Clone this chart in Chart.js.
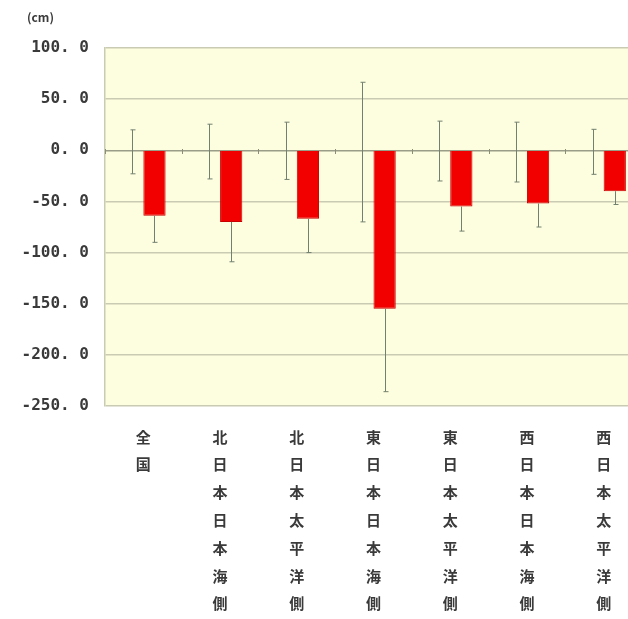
<!DOCTYPE html>
<html>
<head>
<meta charset="utf-8">
<script src="https://cdn.jsdelivr.net/npm/chart.js@4/dist/chart.umd.min.js"></script>
<style>
html,body{margin:0;padding:0;background:#fff;overflow:hidden;}
#wrap{position:relative;width:660px;height:619px;}
</style>
</head>
<body>
<div id="wrap"><canvas id="c"></canvas></div>
<script>
// ---- data ----
const categories = ['全国','北日本日本海側','北日本太平洋側','東日本日本海側','東日本太平洋側','西日本日本海側','西日本太平洋側'];
const normalBase = [0,0,0,0,0,0,0];
const normalHigh = [20,25.5,27.5,66.5,28.5,27.5,20.5];
const normalLow = [-23,-28,-28.5,-70,-30,-31,-23.5];
const anomaly = [-64,-70,-67,-155,-55,-52,-40];
const anomalyLow = [-90,-109,-100,-236,-79,-75,-53];
const yTicks = [100,50,0,-50,-100,-150,-200,-250];
const unitLabel = '(cm)';

const FONT = '"Noto Sans CJK JP","Noto Sans",sans-serif';
const MONO = '"DejaVu Sans Mono","Liberation Mono",monospace';
const TEXT = '#3a3a3a';

const errorBars = {
  id:'errorBars',
  afterDatasetsDraw(chart){
    const ctx = chart.ctx, ys = chart.scales.y;
    const sets = [[0, normalHigh, normalLow],[1, null, anomalyLow]];
    ctx.save();
    ctx.strokeStyle = '#72806f';
    ctx.lineWidth = 1;
    sets.forEach(([di, hi, lo])=>{
      const meta = chart.getDatasetMeta(di);
      meta.data.forEach((el,i)=>{
        const x = Math.round(el.x)+0.5;
        const top = hi ? ys.getPixelForValue(hi[i]) : ys.getPixelForValue(chart.data.datasets[di].data[i]);
        const bot = ys.getPixelForValue(lo[i]);
        ctx.beginPath();
        ctx.moveTo(x, top); ctx.lineTo(x, bot);
        if (hi){ ctx.moveTo(x-2, top); ctx.lineTo(x+3, top); }
        ctx.moveTo(x-2, bot); ctx.lineTo(x+3, bot);
        ctx.stroke();
      });
    });
    // category axis tick marks on the zero line
    const xs = chart.scales.x;
    const y0 = Math.round(ys.getPixelForValue(0));
    ctx.strokeStyle = '#8a8f7a';
    for (let i=0;i<=categories.length;i++){
      const x = Math.round(xs.getPixelForValue(i-0.5))+0.5;
      ctx.beginPath(); ctx.moveTo(x, y0-1); ctx.lineTo(x, y0+4); ctx.stroke();
    }
    ctx.restore();
  },
  afterDraw(chart){
    const ctx = chart.ctx;
    ctx.save();
    ctx.fillStyle = TEXT;
    ctx.font = 'bold 12px ' + FONT;
    ctx.textBaseline = 'middle';
    ctx.fillText(unitLabel, 27, 17);
    ctx.restore();
  }
};

const bgPlugin = {
  id:'bg',
  beforeDraw(chart){
    const {ctx, chartArea:a} = chart;
    ctx.save();
    ctx.fillStyle = '#fdfddf';
    ctx.fillRect(a.left, a.top, a.right-a.left, a.bottom-a.top);
    ctx.restore();
  }
};

new Chart(document.getElementById('c'), {
  type:'bar',
  data:{
    labels: categories.map(s=>Array.from(s)),
    datasets:[
      {label:'平年', data: normalBase, backgroundColor:'rgba(0,0,0,0)', borderWidth:0},
      {label:'偏差', data: anomaly, backgroundColor:'#f20000', borderColor:'#c80000', borderWidth:1}
    ]
  },
  options:{
    responsive:true, maintainAspectRatio:false, animation:false,
    layout:{padding:{left:0,right:18,top:48,bottom:0}},
    plugins:{legend:{display:false}, tooltip:{enabled:false}},
    datasets:{bar:{categoryPercentage:0.58, barPercentage:1.0}},
    scales:{
      x:{
        grid:{display:false, drawTicks:false},
        border:{display:false},
        ticks:{color:TEXT, font:{family:FONT,size:15,weight:'bold',lineHeight:'27.8px'}, padding:17, maxRotation:0, autoSkip:false},
        afterFit(s){ s.height = 213; }
      },
      y:{
        min:-250, max:100,
        afterBuildTicks(s){ s.ticks = yTicks.map(v=>({value:v})); },
        grid:{color:(c)=> c.tick && c.tick.value===0 ? '#9a9e88' : '#c9cbb2', lineWidth:1.5, drawTicks:false},
        border:{display:true, color:'#c9cbb2', width:1.5},
        ticks:{color:TEXT, font:{family:MONO,size:16,weight:'bold'}, padding:16,
          callback:(v)=> Number(v).toFixed(1).replace('.', '. ')},
        afterFit(s){ s.width = 105; }
      }
    }
  },
  plugins:[bgPlugin, errorBars]
});
</script>
</body>
</html>
